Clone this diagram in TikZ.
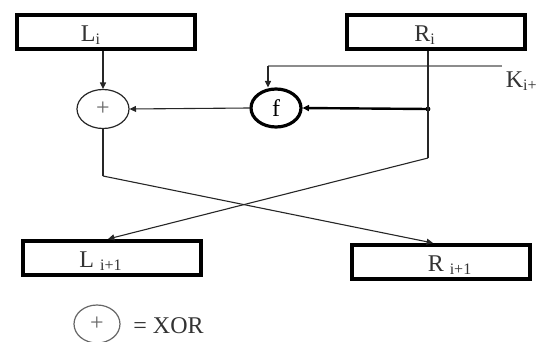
\documentclass[tikz,border=0pt]{standalone}
\usepackage{fontspec}
\setmainfont{Liberation Serif}
\usetikzlibrary{shapes.geometric,arrows.meta,calc}
\begin{document}
\begin{tikzpicture}[x=0.5pt,y=-0.5pt,
  regbox/.style={draw=black,line width=2pt,minimum width=89pt,minimum height=17pt,inner sep=0pt,fill=white},
  lab/.style={text=black!80,font=\fontsize{12}{14}\selectfont,inner sep=0pt},
  thin/.style={draw=black!85,line width=0.55pt},
  arr/.style={-{Triangle[length=3.2pt,width=3pt]}},
  xorop/.style={ellipse,draw=black!85,line width=0.6pt,minimum width=26pt,minimum height=19.5pt,inner sep=0pt,font=\fontsize{12}{14}\selectfont},
  fbox/.style={ellipse,draw=black,line width=1.6pt,minimum width=25pt,minimum height=19pt,inner sep=0pt}
]
\useasboundingbox (0,0) rectangle (540,342);
% boxes
\node[regbox] (Li) at (106,32) {};
\node[regbox] (Ri) at (436,32) {};
\node[regbox] (Ln) at (112,258) {};
\node[regbox] (Rn) at (441,262) {};
\node[lab] (LiT) at (91,35) {L\textsubscript{i}};
\node[lab] (RiT) at (425,35) {R\textsubscript{i}};
\node[lab] (LnT) at (101,261) {L \textsubscript{i+1}};
\node[lab] (RnT) at (450,265) {R \textsubscript{i+1}};
% operators
\node[xorop] (xor) at (103,109) {\textcolor{black!60}{+}};
\node[fbox] (f) at (276,108) {\fontsize{12}{14}\selectfont f};
\coordinate (dot) at (428,109);
\fill[black] (dot) circle (2.4);
% key
\coordinate (Kend) at (502,66);
\coordinate (kc) at (268,66);
\node[lab,anchor=east] (K) at (538,81) {K\textsubscript{i+}};
\draw[draw=black!45,line width=0.6pt] (Kend) -- (kc);
\draw[thin,arr] (kc) -- (kc |- f.north);
% data flow
\draw[thin,arr] (Li.south -| xor) -- (xor.north);
\draw[thin,arr] (f.west) -- (xor.east);
\draw[draw=black,line width=1.2pt,arr] (dot) -- (f.east);
\coordinate (rb) at (428,158);
\coordinate (lb) at (103,176);
\draw[thin] (Ri.south -| dot) -- (dot) -- (rb);
\draw[thin,arr] (rb) -- ($(Ln.north)+(-4,0)$);
\draw[thin] (xor.south) -- (lb);
\draw[thin,arr] (lb) -- ($(Rn.north)+(-8,0)$);
% legend
\node[xorop,draw=black!60,minimum width=23pt,minimum height=19pt] (leg) at (97,324) {\textcolor{black!60}{+}};
\node[lab,anchor=west] (legT) at (133,326) {= XOR};
\end{tikzpicture}
\end{document}
